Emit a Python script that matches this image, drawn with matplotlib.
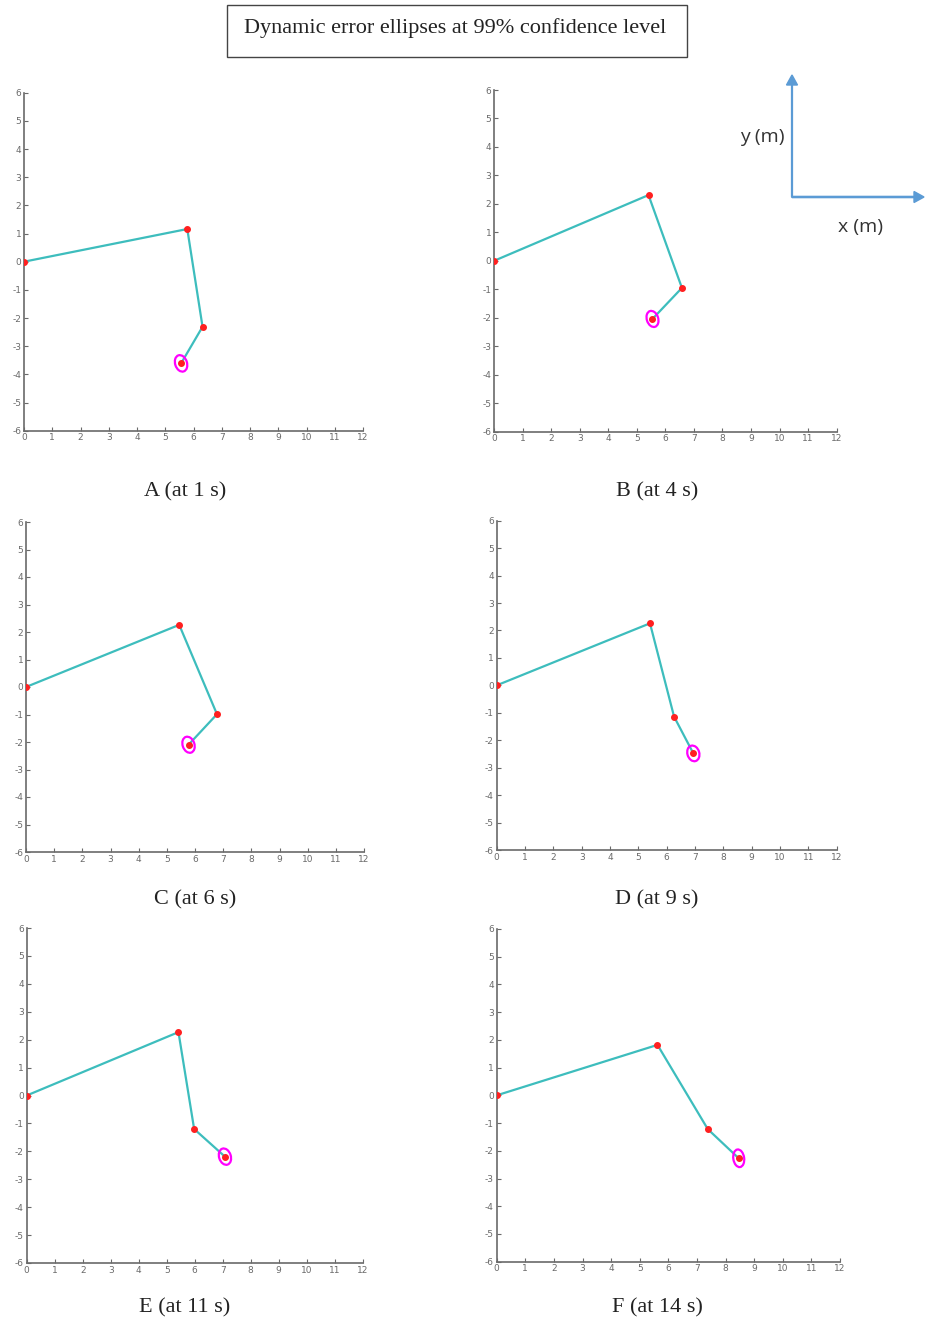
import matplotlib
matplotlib.use("Agg")
import matplotlib.pyplot as plt
from matplotlib.patches import Ellipse, Rectangle, FancyArrow

plt.rcParams["axes.unicode_minus"] = False

# Joint positions of the arm (base, elbow, wrist, end effector) at each instant
panel_labels = ["A (at 1 s)", "B (at 4 s)", "C (at 6 s)", "D (at 9 s)", "E (at 11 s)", "F (at 14 s)"]
joints_x = [
    [0.0, 5.78, 6.32, 5.56],
    [0.0, 5.41, 6.58, 5.55],
    [0.0, 5.44, 6.78, 5.77],
    [0.0, 5.41, 6.26, 6.94],
    [0.0, 5.42, 5.98, 7.08],
    [0.0, 5.62, 7.38, 8.46],
]
joints_y = [
    [0.0, 1.16, -2.31, -3.61],
    [0.0, 2.31, -0.95, -2.04],
    [0.0, 2.26, -0.99, -2.10],
    [0.0, 2.26, -1.14, -2.48],
    [0.0, 2.27, -1.20, -2.19],
    [0.0, 1.82, -1.22, -2.27],
]
# 99% error ellipse of the end effector: full axes (m) and orientation (deg)
ellipse_w = [0.42, 0.40, 0.42, 0.42, 0.42, 0.38]
ellipse_h = [0.60, 0.58, 0.60, 0.58, 0.60, 0.64]
ellipse_angle = [18, 18, 18, 15, 18, 8]

x_ticks = list(range(0, 13))
y_ticks = list(range(-6, 7))

W, H = 925, 1324
fig = plt.figure(figsize=(W / 100, H / 100), dpi=100)

# axes boxes in pixels: left, right, top, bottom
boxes = [
    (24, 363, 92.7, 430.7),
    (494, 836.7, 90, 431.7),
    (26, 364, 522, 852),
    (496.7, 836.7, 520.7, 850),
    (26.7, 362.7, 928, 1263),
    (496.7, 840, 929, 1261.7),
]
label_pos = [(185, 492), (657, 492), (195, 900), (657, 900), (185, 1308), (657, 1308)]

line_color = "#3dbdbd"
axis_color = "#6a6a6a"

for i, (l, r, t, b) in enumerate(boxes):
    ax = fig.add_axes([l / W, 1 - b / H, (r - l) / W, (b - t) / H])
    ax.set_xlim(0, 12)
    ax.set_ylim(-6, 6)
    ax.set_xticks(x_ticks)
    ax.set_yticks(y_ticks)
    for s in ("top", "right"):
        ax.spines[s].set_visible(False)
    for s in ("left", "bottom"):
        ax.spines[s].set_color(axis_color)
        ax.spines[s].set_linewidth(1.2)
    ax.tick_params(direction="in", length=3, width=0.8, colors=axis_color,
                   labelsize=6.5, pad=2)
    ax.patch.set_alpha(0)

    ax.plot(joints_x[i], joints_y[i], color=line_color, lw=1.6, zorder=2)
    ax.plot(joints_x[i], joints_y[i], "o", color="#ff2020", ms=4,
            mec="#ff2020", lw=0, zorder=3)
    ell = Ellipse((joints_x[i][-1], joints_y[i][-1]), ellipse_w[i], ellipse_h[i],
                  angle=ellipse_angle[i], fill=False, ec="#ff00ff", lw=1.6, zorder=4)
    ax.add_patch(ell)

    lx, ly = label_pos[i]
    fig.text(lx / W, 1 - ly / H, panel_labels[i], ha="center", va="center",
             family="Liberation Serif", fontsize=16, color="#222222")

# Title box
fig.patches.append(Rectangle((227 / W, 1 - 57 / H), (687 - 227) / W, (57 - 5) / H,
                             transform=fig.transFigure, fill=False,
                             ec="#444444", lw=1.0))
fig.text(455 / W, 1 - 28 / H, "Dynamic error ellipses at 99% confidence level",
         ha="center", va="center", family="Liberation Serif", fontsize=16,
         color="#222222")

# Coordinate frame indicator
arrow_color = "#5b9bd5"
ox, oy = 792, 197
fig.patches.append(FancyArrow(ox / W, 1 - oy / H, 0, (oy - 75) / H - 10 / H,
                              width=1.2 / H, head_width=11 / W, head_length=10 / H,
                              length_includes_head=False, transform=fig.transFigure,
                              color=arrow_color))
fig.patches.append(FancyArrow(ox / W, 1 - oy / H, (924 - ox) / W - 10 / W, 0,
                              width=1.2 / H, head_width=11 / H, head_length=10 / W,
                              length_includes_head=False, transform=fig.transFigure,
                              color=arrow_color))
fig.text(762 / W, 1 - 137 / H, "y (m)", ha="center", va="center",
         family="Open Sans", fontsize=14, color="#333333")
fig.text(861 / W, 1 - 227 / H, "x (m)", ha="center", va="center",
         family="Open Sans", fontsize=14, color="#333333")

fig.savefig("out.png", dpi=100)
